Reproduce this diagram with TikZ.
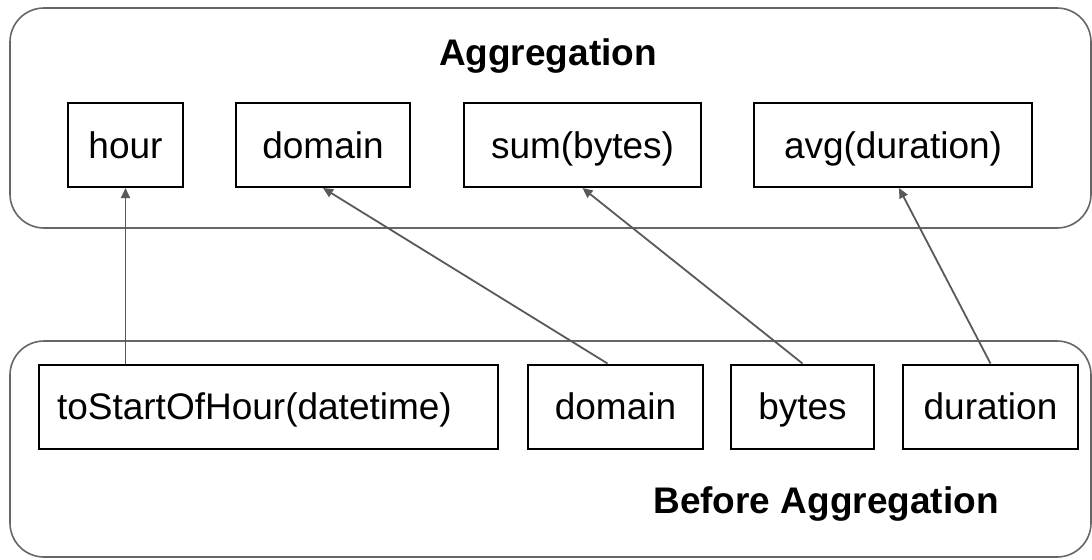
\documentclass[tikz,border=0pt]{standalone}
\usepackage{fontspec}
\setmainfont{Liberation Sans}
\usepackage{tikz}
\usetikzlibrary{positioning,arrows.meta}
\tikzset{field/.style={draw=black,line width=1pt,minimum height=42pt,inner sep=0pt,text height=13.5pt,text depth=0.5pt,font=\fontsize{18.5}{22}\selectfont}}
\tikzset{group/.style={draw=black!60,line width=0.8pt,rounded corners=17pt,minimum width=540.5pt}}
\tikzset{title/.style={draw=none,color=black,font=\fontsize{18.5}{22}\selectfont\bfseries}}

\begin{document}
\begin{tikzpicture}[x=1pt,y=1pt]
        \useasboundingbox (0,0) rectangle (546,-279.5);
        \tikzstyle{conn}=[->,>={Triangle[length=5pt,width=4.5pt]},line width=0.9pt,draw=black!65];
        \node[group,minimum height=110pt] (aggbox) at (275.25,-59) {};
        \node[group,minimum height=108pt] (beforebox) at (275.25,-224.5) {};
        \node[title] (aggtitle) at (274,-28) {Aggregation};
        \node[title] (beforetitle) at (413,-252) {Before Aggregation};

        \node[field,minimum width=57.5pt] (a1) at (62.75,-72.5) {hour};
        \node[field,minimum width=87pt,right=25.5pt of a1] (a2) {domain};
        \node[field,minimum width=118.5pt,right=26pt of a2] (a3) {sum(bytes)};
        \node[field,minimum width=139pt,right=25.5pt of a3] (a4) {avg(duration)};

        \node[field,text width=211.5pt,align=left,inner xsep=9pt] (b1) at (134.25,-203.25) {toStartOfHour(datetime)};
        \node[field,minimum width=87.5pt,right=14pt of b1] (b2) {domain};
        \node[field,minimum width=71.5pt,right=13pt of b2] (b3) {bytes};
        \node[field,minimum width=87.5pt,right=13.5pt of b3] (b4) {duration};

        \draw[conn] (a1.south |- b1.north) to (a1.south);
        \draw[conn] ([xshift=-4pt]b2.north) to (a2.south);
        \draw[conn] (b3.north) to (a3.south);
        \draw[conn] (b4.north) to ([xshift=3pt]a4.south);
    \end{tikzpicture}
\end{document}
